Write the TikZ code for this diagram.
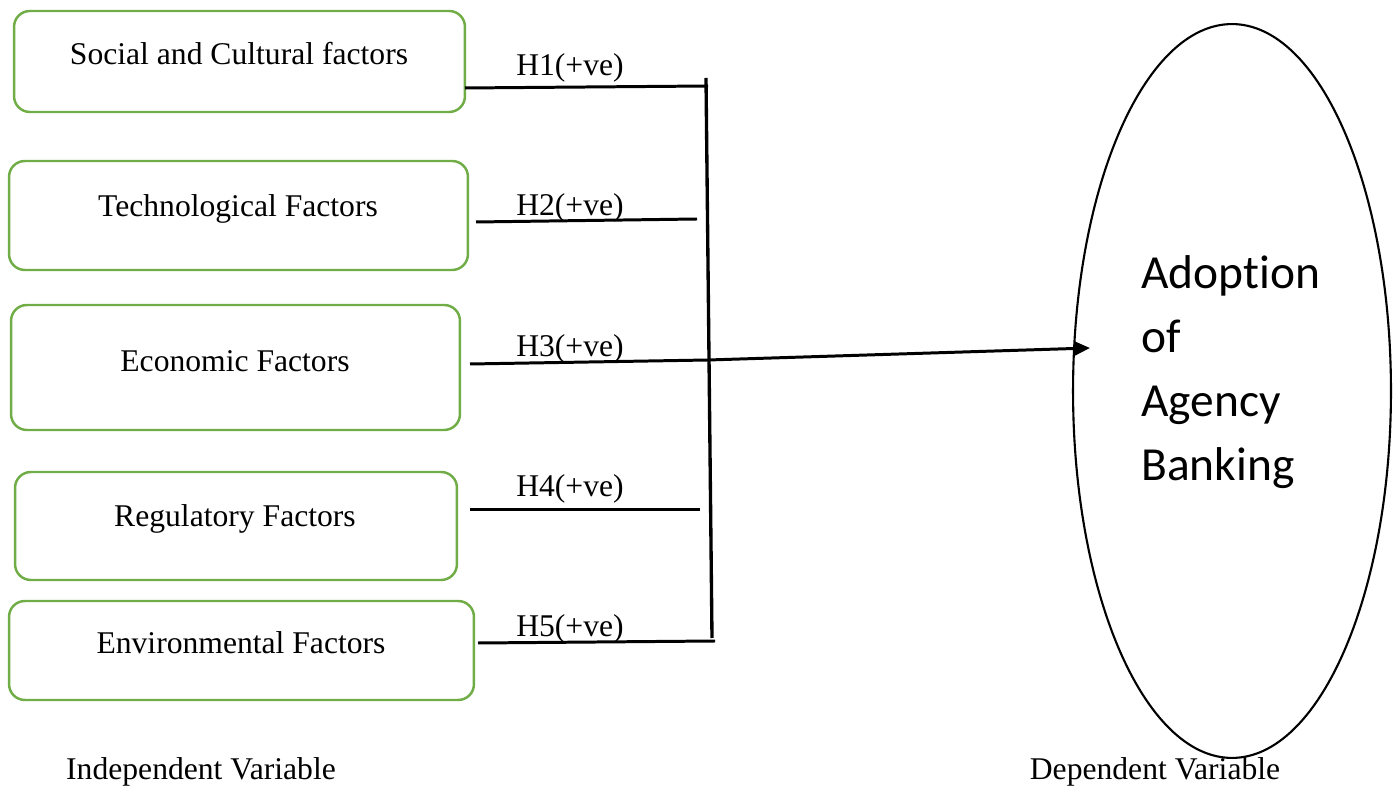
\documentclass[tikz,border=0pt]{standalone}
\usepackage{fontspec}
\setmainfont{Liberation Serif}
\newfontfamily\calib[RawFeature=-liga]{Carlito}
\usepackage{tikz}
\usetikzlibrary{calc,arrows.meta,shapes.geometric}
\definecolor{boxgreen}{RGB}{112,173,71}

\begin{document}
\begin{tikzpicture}[x=0.02cm,y=-0.02cm,
        factor/.style={draw=boxgreen,line width=1.4pt,rounded corners=9pt,inner sep=0pt},
        link/.style={line width=1.7pt},
        hyp/.style={font=\fontsize{18}{22}\selectfont},
        txt/.style={font=\fontsize{18}{22}\selectfont}]
            \useasboundingbox (0,0) rectangle (1396,786);
            % independent variables
            \node[factor,minimum width=9.02cm,minimum height=2.02cm] (soc) at (239.5,61.5) {};
            \node[factor,minimum width=9.18cm,minimum height=2.18cm] (tech) at (238.5,215.5) {};
            \node[factor,minimum width=8.98cm,minimum height=2.5cm] (eco) at (235.5,367.5) {};
            \node[factor,minimum width=8.84cm,minimum height=2.16cm] (reg) at (236,526) {};
            \node[factor,minimum width=9.30cm,minimum height=1.98cm] (env) at (241.5,650.5) {};
            \node[txt] (soctxt) at (239,54) {Social and Cultural factors};
            \node[txt] (techtxt) at (238,209) {Technological Factors};
            \node[txt] (ecotxt) at (235,361) {Economic Factors};
            \node[txt] (regtxt) at (235,519) {Regulatory Factors};
            \node[txt] (envtxt) at (241,643) {Environmental Factors};
            % dependent variable
            \node[draw,ellipse,line width=1.2pt,minimum width=6.36cm,minimum height=14.68cm] (adopt) at (1232,391) {};
            \node[anchor=west,align=left,inner sep=0pt,font=\calib\fontsize{27}{36.3}\selectfont] (adopttxt) at (1141,372) {Adoption\\of\\Agency\\Banking};
            % connectors
            \coordinate (bartop) at (706,78);
            \coordinate (barbot) at (712,638);
            \coordinate (h1a) at (465,88);  \coordinate (h1b) at (708,86);
            \coordinate (h2a) at (476,222); \coordinate (h2b) at (697,219);
            \coordinate (h3a) at (470,364); \coordinate (h3b) at (708,360);
            \coordinate (h4a) at (470,509.3); \coordinate (h4b) at (700,509.3);
            \coordinate (h5a) at (478,643); \coordinate (h5b) at (715,641);
            \coordinate (tip) at (1090,348);
            \draw[line width=1.9pt] (bartop)--(barbot);
            \draw[link] (h1a)--(h1b);
            \draw[link] (h2a)--(h2b);
            \draw[link] (h3a)--(h3b);
            \draw[link] (h4a)--(h4b);
            \draw[link] (h5a)--(h5b);
            \draw[link,-{Triangle[length=9pt,width=8pt]}] (h3b)--(tip);
            \node[hyp] (hy1) at (570,68) {H1(+ve)};
            \node[hyp] (hy2) at (570,208) {H2(+ve)};
            \node[hyp] (hy3) at (570,349) {H3(+ve)};
            \node[hyp] (hy4) at (570,489) {H4(+ve)};
            \node[hyp] (hy5) at (570,629) {H5(+ve)};
            % captions
            \node[txt] (indep) at (201,772) {Independent Variable};
            \node[txt] (dep) at (1155,772) {Dependent Variable};
        \end{tikzpicture}
\end{document}
